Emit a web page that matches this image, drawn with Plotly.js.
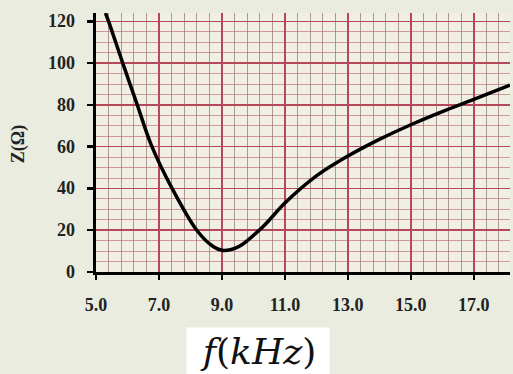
<!DOCTYPE html>
<html><head><meta charset="utf-8">
<script src="https://cdn.plot.ly/plotly-3.0.1.min.js"></script>
<style>html,body{margin:0;padding:0;background:#e9ecdf;}#chart{width:513px;height:374px;}</style>
</head><body><div id="chart"></div>
<script>
const freqKHz = [5.3, 5.4, 5.85, 6.3, 6.75, 7.4, 8.2, 8.72, 9.0, 9.3, 9.57, 10.31, 11.0, 12.0, 13.0, 14.0, 15.0, 16.0, 17.0, 18.15];
const impedance = [124, 120, 100, 80.5, 61, 40.5, 20, 12.2, 10.4, 10.8, 12.4, 21.8, 33, 46, 55.5, 63.5, 70.5, 76.8, 82.6, 89.5];
const xTickVals = [5, 7, 9, 11, 13, 15, 17];
const xTickText = ["5.0", "7.0", "9.0", "11.0", "13.0", "15.0", "17.0"];
const yTickVals = [0, 20, 40, 60, 80, 100, 120];
const yTickText = ["0", "20", "40", "60", "80", "100", "120"];
const yTitle = "Z(Ω)";
const xTitle = "<i>f</i>(<i>kHz</i>)";

const serif = "Liberation Serif, Times New Roman, serif";
const tickFont = {family: serif, size: 18, color: "#222"};
const bold = arr => arr.map(s => "<b>" + s + "</b>");

const trace = {
  x: freqKHz, y: impedance, mode: "lines", type: "scatter",
  line: {color: "#000", width: 3.5, shape: "spline", smoothing: 0.9},
  hoverinfo: "skip"
};

const yLabelAnnotations = yTickVals.map((v, i) => ({
  xref: "paper", yref: "y", x: -0.045, y: v, xanchor: "right", yanchor: "middle",
  text: "<b>" + yTickText[i] + "</b>", showarrow: false, font: tickFont
}));

const layout = {
  width: 513, height: 374,
  margin: {l: 96, r: 3, t: 13, b: 102},
  paper_bgcolor: "#e9ecdf",
  plot_bgcolor: "#f1efe3",
  showlegend: false,
  xaxis: {
    range: [5, 18.15], tickvals: xTickVals, ticktext: bold(xTickText),
    tickfont: tickFont, ticks: "outside", ticklen: 5, tickwidth: 2.5, tickcolor: "#000",
    ticklabelstandoff: 9,
    showline: true, linecolor: "#000", linewidth: 3,
    showgrid: true, gridcolor: "#b5485a", gridwidth: 1.5,
    minor: {dtick: 0.4, tick0: 5, showgrid: true, gridcolor: "rgba(125,95,95,0.6)", gridwidth: 1},
    zeroline: false, fixedrange: true
  },
  yaxis: {
    range: [0, 124], tickvals: yTickVals, showticklabels: false,
    ticks: "outside", ticklen: 6, tickwidth: 2.5, tickcolor: "#000",
    showline: true, linecolor: "#000", linewidth: 3,
    showgrid: true, gridcolor: "#b5485a", gridwidth: 1.5,
    minor: {dtick: 5, tick0: 0, showgrid: true, gridcolor: "rgba(185,95,105,0.6)", gridwidth: 1},
    zeroline: false, fixedrange: true
  },
  annotations: yLabelAnnotations.concat([{
    xref: "paper", yref: "paper", x: -0.188, y: 0.494, xanchor: "center", yanchor: "middle",
    text: "<b>" + yTitle + "</b>", textangle: -90, showarrow: false,
    font: {family: serif, size: 18, color: "#222"}
  }, {
    xref: "paper", yref: "paper", x: 0.392, y: -0.305, xanchor: "center", yanchor: "middle",
    text: xTitle, showarrow: false,
    font: {family: "DejaVu Serif, serif", size: 36, color: "#111"},
    bgcolor: "#ffffff", borderpad: 0, width: 142, height: 46, align: "center"
  }])
};

Plotly.newPlot("chart", [trace], layout, {displayModeBar: false, staticPlot: true});
</script></body></html>
